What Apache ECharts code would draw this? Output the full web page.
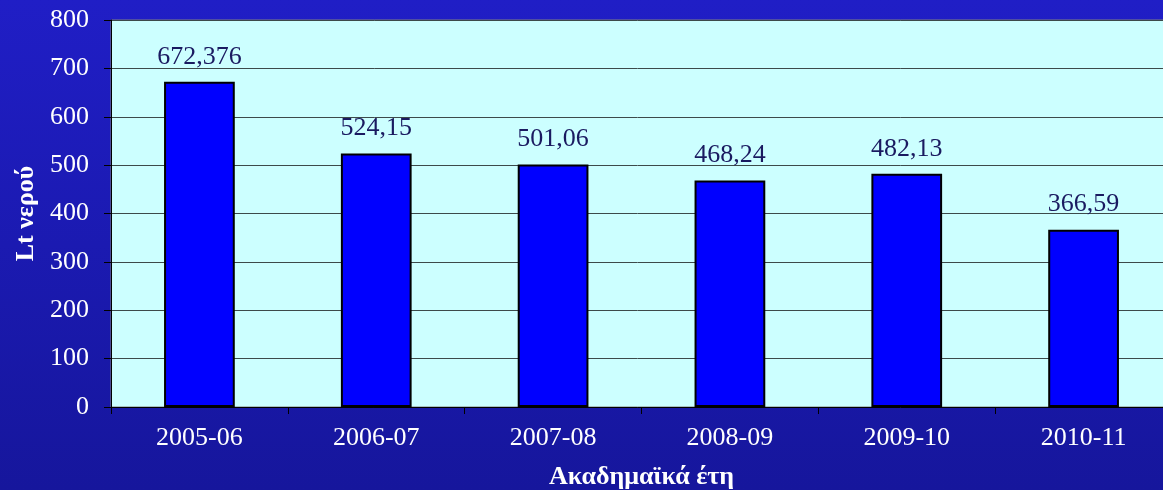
<!DOCTYPE html>
<html>
<head>
<meta charset="utf-8">
<script src="https://cdn.jsdelivr.net/npm/echarts@6/dist/echarts.min.js"></script>
<style>
html, body { margin: 0; padding: 0; }
#main { width: 1163px; height: 490px; }
</style>
</head>
<body>
<div id="main"></div>
<script>
var years = ['2005-06', '2006-07', '2007-08', '2008-09', '2009-10', '2010-11'];
var litres = [672.376, 524.15, 501.06, 468.24, 482.13, 366.59];
var labelsText = ['672,376', '524,15', '501,06', '468,24', '482,13', '366,59'];

var chart = echarts.init(document.getElementById('main'));
var serif = '"Liberation Serif", "DejaVu Serif", serif';

var option = {
    backgroundColor: {
        type: 'linear', x: 0, y: 0, x2: 0, y2: 1,
        colorStops: [
            { offset: 0, color: '#201ec6' },
            { offset: 1, color: '#16169c' }
        ]
    },
    grid: {
        left: 111,
        right: -9,
        top: 20,
        bottom: 83,
        outerBoundsMode: 'none',
        containLabel: false,
        show: true,
        backgroundColor: '#ccffff',
        borderColor: '#808080',
        borderWidth: 1
    },
    xAxis: {
        type: 'category',
        data: years,
        name: 'Ακαδημαϊκά έτη',
        nameLocation: 'middle',
        nameGap: 57,
        nameTextStyle: { color: '#ffffff', fontFamily: serif, fontSize: 26, fontWeight: 'bold' },
        axisLine: { lineStyle: { color: '#000000', width: 1 } },
        axisTick: { show: true, length: 7, lineStyle: { color: '#000000' } },
        axisLabel: { color: '#ffffff', fontFamily: serif, fontSize: 26, margin: 18 }
    },
    yAxis: {
        type: 'value',
        min: 0,
        max: 800,
        interval: 100,
        name: 'Lt νερού',
        nameLocation: 'middle',
        nameGap: 68,
        nameTextStyle: { color: '#ffffff', fontFamily: serif, fontSize: 26, fontWeight: 'bold' },
        axisLine: { show: true, lineStyle: { color: '#000000', width: 1 } },
        axisTick: { show: true, length: 7, lineStyle: { color: '#000000' } },
        axisLabel: { color: '#ffffff', fontFamily: serif, fontSize: 26, margin: 22 },
        splitLine: { lineStyle: { color: '#3c4a4a', width: 1 } }
    },
    series: [{
        type: 'bar',
        data: litres,
        barWidth: '40%',
        itemStyle: { color: '#0000ff', borderColor: '#000000', borderWidth: 2 },
        label: {
            show: true,
            position: 'top',
            distance: 12,
            color: '#1a1a60',
            fontFamily: serif,
            fontSize: 26,
            formatter: function (p) { return labelsText[p.dataIndex]; }
        }
    }]
};

chart.setOption(option);
window.addEventListener('resize', function () { chart.resize(); });
</script>
</body>
</html>
